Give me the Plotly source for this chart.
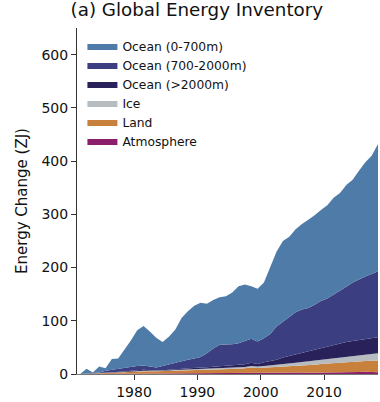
import plotly.graph_objects as go

# Mid-year time axis, 1971-2018
years = [1971.5 + i for i in range(48)]

# Energy gained by each component of the climate system (ZJ), relative to 1971
atmosphere = [0, 0.1, 0.2, 0.3, 0.4, 0.5, 0.6, 0.7, 0.9, 1.0, 1.2, 1.0, 0.9, 1.0, 1.1, 1.2,
              1.3, 1.5, 1.5, 1.6, 1.5, 1.3, 1.4, 1.6, 1.7, 1.8, 2.2, 3.2, 2.0, 2.0, 2.2, 2.4,
              2.5, 2.4, 2.6, 2.6, 2.5, 2.5, 3.0, 3.4, 2.8, 2.9, 3.0, 3.2, 3.6, 4.0, 3.6, 3.5]
land = [0, 0.2, 0.3, 0.7, 1.4, 1.8, 2.2, 2.7, 3.3, 3.8, 4.2, 4.2, 4.1, 4.3, 4.7, 5.0,
        5.3, 5.6, 6.0, 6.3, 6.6, 7.0, 7.3, 7.6, 7.9, 8.2, 8.5, 9.0, 9.2, 9.8, 10.2, 10.7,
        11.4, 12.1, 12.7, 13.4, 14.3, 15.1, 15.8, 16.4, 17.4, 18.1, 18.8, 19.4, 19.9, 20.4, 21.2, 21.7]
ice = [0, 0, 0.1, 0.2, 0.2, 0.3, 0.3, 0.4, 0.6, 0.7, 0.8, 0.8, 0.8, 0.9, 1.0, 1.1,
       1.2, 1.3, 1.4, 1.5, 1.6, 1.7, 1.8, 2.0, 2.2, 2.3, 2.5, 2.8, 2.8, 3.0, 3.4, 3.9,
       4.5, 5.1, 5.7, 6.4, 7.0, 7.6, 8.2, 8.8, 9.4, 10.0, 10.6, 11.2, 11.9, 12.6, 13.4, 13.8]
ocean_deep = [0, 0.2, 0.4, 0.3, 0.5, 0.4, 0.4, 0.7, 1.2, 1.5, 1.8, 1.0, 0.7, 0.8, 1.2, 1.7,
              2.2, 2.6, 2.6, 2.6, 2.8, 3.5, 3.5, 3.8, 4.2, 4.7, 5.3, 6.0, 5.0, 7.2, 8.2, 10.0,
              12.6, 14.4, 16.0, 17.6, 19.2, 20.8, 22.0, 23.4, 25.4, 27.0, 27.6, 28.2, 28.6, 29.0, 29.8, 30.0]
ocean_mid = [0, 0.5, 1, 1.5, 3.5, 5, 5.5, 6.5, 7, 8, 8, 7, 5.5, 8, 10, 13,
             15, 16, 17.5, 20, 26.5, 34.5, 41, 40, 40, 41, 43.5, 45, 42, 45, 51, 62,
             67, 73, 79, 81, 81, 84, 88, 90, 94, 98, 104, 110, 114, 117, 120, 124]
ocean_upper = [0, 9, 1, 11, 5, 20, 20, 34, 50, 67, 74, 66, 56, 45, 52, 61,
               80, 91, 99, 102, 93, 91, 89, 91, 97, 107, 106, 99, 99, 105, 125, 141,
               152, 151, 156, 161, 166, 168, 171, 175, 182, 184, 191, 193, 204, 215, 222, 239]

# Stacked from the bottom up
layers = [
    ("Atmosphere", atmosphere, "#8c1f6b"),
    ("Land", land, "#c8803d"),
    ("Ice", ice, "#b6bcbf"),
    ("Ocean (>2000m)", ocean_deep, "#29225a"),
    ("Ocean (700-2000m)", ocean_mid, "#3b3e80"),
    ("Ocean (0-700m)", ocean_upper, "#4f7ba8"),
]

fig = go.Figure()
for name, values, color in layers:
    fig.add_trace(go.Scatter(
        x=years, y=values, name=name, mode="lines",
        stackgroup="energy", line=dict(width=0, color=color),
        fillcolor=color,
    ))

font_family = "DejaVu Sans"
fig.update_layout(
    width=380, height=402,
    margin=dict(l=77, r=2, t=28, b=26),
    plot_bgcolor="white", paper_bgcolor="white",
    font=dict(family=font_family, size=14, color="#111111"),
    title=dict(text="(a) Global Energy Inventory", x=0.518, xanchor="center",
               xref="container", y=0.992, yanchor="top",
               font=dict(size=18.3, color="#111111")),
    showlegend=True,
    legend=dict(x=0.018, y=0.99, xanchor="left", yanchor="top",
                traceorder="reversed", bgcolor="rgba(0,0,0,0)",
                font=dict(size=12.3, color="#111111"), itemwidth=30),
    xaxis=dict(range=[1971, 2018.5], tickvals=[1980, 1990, 2000, 2010],
               ticks="outside", ticklen=5, tickcolor="#333333",
               showline=True, linecolor="#777777", linewidth=1,
               showgrid=False, zeroline=False),
    yaxis=dict(range=[0, 650], tickvals=[0, 100, 200, 300, 400, 500, 600],
               ticks="outside", ticklen=5, tickcolor="#333333",
               showline=True, linecolor="#333333", linewidth=1,
               showgrid=False, zeroline=False,
               title=dict(text="Energy Change (ZJ)", standoff=10,
                          font=dict(size=15))),
)

fig.write_html("out.html")
